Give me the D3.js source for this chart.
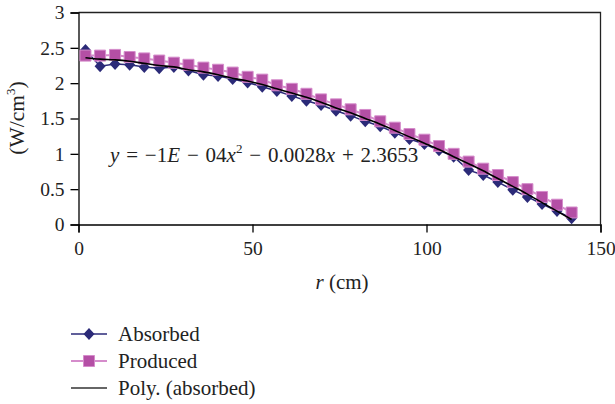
<!DOCTYPE html>
<html><head><meta charset="utf-8">
<script src="https://cdn.jsdelivr.net/npm/d3@7"></script>
<style>
body{margin:0;background:#fff;}
svg{display:block;font-family:"Liberation Serif","DejaVu Serif",serif;}
</style></head>
<body><svg id="c" width="615" height="404"></svg>
<script>
const radius = [2.0, 6.2, 10.5, 14.7, 18.9, 23.2, 27.4, 31.6, 35.9, 40.1, 44.3, 48.6, 52.8, 57.0, 61.3, 65.5, 69.7, 74.0, 78.2, 82.4, 86.7, 90.9, 95.1, 99.4, 103.6, 107.8, 112.1, 116.3, 120.5, 124.8, 129.0, 133.2, 137.5, 141.7];
const absorbed = [2.47, 2.24, 2.27, 2.26, 2.23, 2.21, 2.23, 2.18, 2.12, 2.10, 2.06, 2.01, 1.95, 1.89, 1.82, 1.75, 1.69, 1.61, 1.54, 1.46, 1.39, 1.30, 1.21, 1.14, 1.05, 0.96, 0.77, 0.70, 0.60, 0.49, 0.39, 0.29, 0.19, 0.09];
const produced = [2.39, 2.39, 2.40, 2.37, 2.35, 2.32, 2.29, 2.26, 2.22, 2.19, 2.15, 2.09, 2.05, 1.97, 1.92, 1.85, 1.77, 1.70, 1.63, 1.55, 1.46, 1.37, 1.28, 1.20, 1.11, 1.00, 0.89, 0.79, 0.70, 0.60, 0.50, 0.39, 0.28, 0.17];
const polyAbsorbed = [2.36, 2.34, 2.33, 2.31, 2.28, 2.25, 2.23, 2.19, 2.16, 2.12, 2.07, 2.03, 1.98, 1.92, 1.86, 1.80, 1.73, 1.65, 1.58, 1.50, 1.42, 1.33, 1.24, 1.15, 1.06, 0.96, 0.86, 0.76, 0.65, 0.54, 0.43, 0.31, 0.19, 0.07];
const xTicks = [0, 50, 100, 150];
const yTicks = [0, 0.5, 1, 1.5, 2, 2.5, 3];
const seriesNames = ["Absorbed", "Produced", "Poly. (absorbed)"];

const navy = "#2b2a78", mag = "#b44fa5", magLine = "#d58ccb";
const FS = 21;
const svg = d3.select("#c");
const x = d3.scaleLinear().domain([0,150]).range([78.5,600.5]);
const y = d3.scaleLinear().domain([0,3]).range([224.5,12.5]);

// frame
svg.append("path").attr("d",`M${x(0)},${y(3)}H${x(150)}V${y(0)}`).attr("fill","none").attr("stroke","#222").attr("stroke-width",1.3);

const xa = svg.append("g").attr("transform",`translate(0,${y(0)})`)
  .call(d3.axisBottom(x).tickValues(xTicks).tickSize(8).tickPadding(9).tickFormat(d3.format("d")));
const ya = svg.append("g").attr("transform",`translate(${x(0)},0)`)
  .call(d3.axisLeft(y).tickValues(yTicks).tickSize(8).tickPadding(6).tickFormat(d=>String(d)));
[xa,ya].forEach(a=>{
  a.select(".domain").attr("stroke","#000").attr("stroke-width",1.3);
  a.selectAll(".tick line").attr("stroke","#000").attr("stroke-width",1.3);
  a.selectAll("text").attr("font-family","Liberation Serif").attr("font-size",19.5).attr("fill","#222");
});

const pts = (vals)=> radius.map((r,i)=>[r, vals[i]]);
const line = d3.line().x(d=>x(d[0])).y(d=>y(d[1]));
const diamond = "M0,-6L5.5,0L0,6L-5.5,0Z";
const square = "M-5.5,-5.5H5.5V5.5H-5.5Z";

// absorbed
svg.append("path").attr("d",line(pts(absorbed))).attr("fill","none").attr("stroke",navy).attr("stroke-width",1.5);
svg.append("g").selectAll("path").data(pts(absorbed)).join("path")
  .attr("d",diamond).attr("transform",d=>`translate(${x(d[0])},${y(d[1])})`).attr("fill",navy);
// produced
svg.append("path").attr("d",line(pts(produced))).attr("fill","none").attr("stroke",magLine).attr("stroke-width",2);
svg.append("g").selectAll("path").data(pts(produced)).join("path")
  .attr("d",square).attr("transform",d=>`translate(${x(d[0])},${y(d[1])})`).attr("fill",mag).attr("stroke",magLine).attr("stroke-width",1);
// poly trendline
svg.append("path").attr("d",d3.line().curve(d3.curveMonotoneX).x(d=>x(d[0])).y(d=>y(d[1]))(pts(polyAbsorbed)))
  .attr("fill","none").attr("stroke","#000").attr("stroke-width",1.6);

// equation
const eq = svg.append("text").attr("x",110).attr("y",162).attr("font-size",FS).attr("fill","#222").attr("word-spacing",1.6);
eq.append("tspan").attr("font-style","italic").text("y");
eq.append("tspan").text(" = \u22121");
eq.append("tspan").attr("font-style","italic").text("E");
eq.append("tspan").text(" \u2212 04");
eq.append("tspan").attr("font-style","italic").text("x");
eq.append("tspan").attr("font-size",13).attr("dy",-9).text("2");
eq.append("tspan").attr("dy",9).text(" \u2212 0.0028");
eq.append("tspan").attr("font-style","italic").text("x");
eq.append("tspan").text(" + 2.3653");

// axis titles
const xt = svg.append("text").attr("x",342).attr("y",289).attr("text-anchor","middle").attr("font-size",FS).attr("fill","#222");
xt.append("tspan").attr("font-style","italic").text("r");
xt.append("tspan").text(" (cm)");
const yt = svg.append("text").attr("transform","translate(24,118) rotate(-90)").attr("text-anchor","middle").attr("font-size",21.5).attr("fill","#222");
yt.append("tspan").text("(W/cm");
yt.append("tspan").attr("font-size",13).attr("dy",-9).text("3");
yt.append("tspan").attr("dy",9).text(")");

// legend
const lg = svg.append("g");
const rows = [334, 361, 388];
seriesNames.forEach((name,i)=>{
  const g = lg.append("g").attr("transform",`translate(0,${rows[i]})`);
  const col = i===0?navy:(i===1?magLine:"#333");
  g.append("line").attr("x1",71).attr("x2",107).attr("stroke",col).attr("stroke-width",i===1?2:1.6);
  if(i===0) g.append("path").attr("d",diamond).attr("transform","translate(89,0)").attr("fill",navy);
  if(i===1) g.append("path").attr("d",square).attr("transform","translate(89,0)").attr("fill",mag).attr("stroke",magLine);
  g.append("text").attr("x",118).attr("y",7).attr("font-size",FS).attr("fill","#222").text(name);
});
</script></body></html>
